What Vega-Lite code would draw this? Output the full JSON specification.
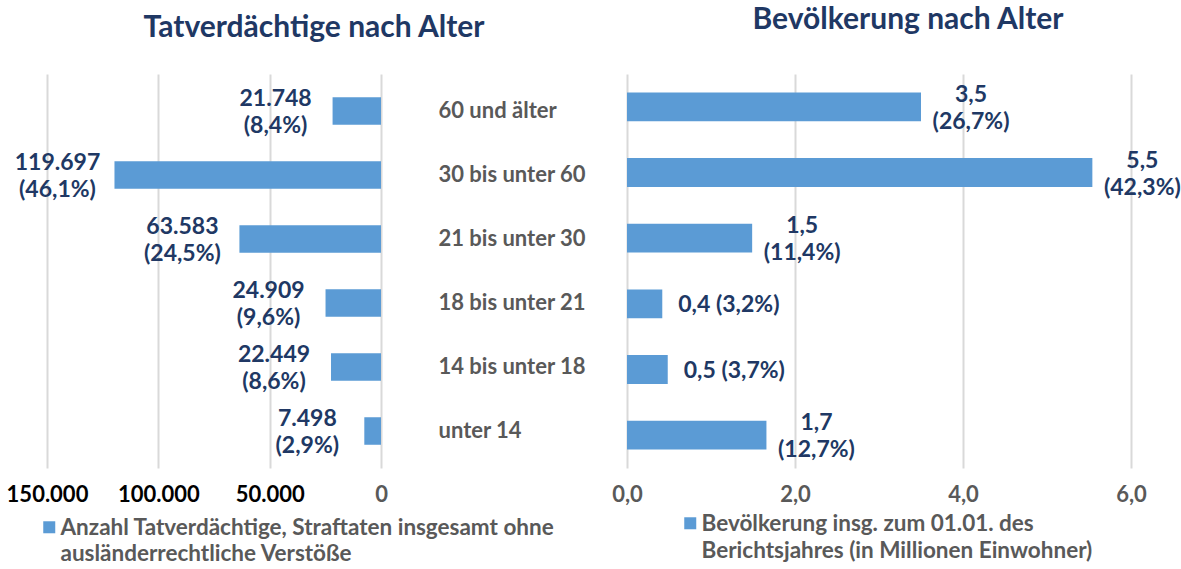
{
  "$schema": "https://vega.github.io/schema/vega-lite/v6.json",
  "padding": {"left": 6, "top": 5, "right": 5, "bottom": 5},
  "background": "white",
  "spacing": 246,
  "bounds": "flush",
  "data": {"values": [
    {"age": "60 und älter", "tv": 21748, "tvl": "21.748\n(8,4%)", "pop": 3.5, "popl": "3,5\n(26,7%)"},
    {"age": "30 bis unter 60", "tv": 119697, "tvl": "119.697\n(46,1%)", "pop": 5.54, "popl": "5,5\n(42,3%)"},
    {"age": "21 bis unter 30", "tv": 63583, "tvl": "63.583\n(24,5%)", "pop": 1.49, "popl": "1,5\n(11,4%)"},
    {"age": "18 bis unter 21", "tv": 24909, "tvl": "24.909\n(9,6%)", "pop": 0.42, "popl": "0,4 (3,2%)"},
    {"age": "14 bis unter 18", "tv": 22449, "tvl": "22.449\n(8,6%)", "pop": 0.485, "popl": "0,5 (3,7%)"},
    {"age": "unter 14", "tv": 7498, "tvl": "7.498\n(2,9%)", "pop": 1.66, "popl": "1,7\n(12,7%)"}
  ]},
  "hconcat": [
    {
      "width": 334,
      "height": 394,
      "title": {"text": "Tatverdächtige nach Alter", "font": "Lato", "fontSize": 30, "fontWeight": "bold", "color": "#1F3864", "anchor": "middle", "frame": "group", "dx": 100, "offset": 1, "baseline": "bottom"},
      "encoding": {
        "y": {"field": "age", "type": "nominal", "sort": null,
          "scale": {"paddingInner": 0.57, "paddingOuter": 0.363},
          "axis": {"orient": "right", "title": null, "labelAlign": "left", "labelPadding": 57, "domain": false, "ticks": false, "tickSize": 0,
            "labelColor": "#595959", "labelFont": "Lato", "labelFontSize": 22, "labelFontWeight": "bold", "labelLimit": 300, "labelBaseline": "middle"}}
      },
      "layer": [
        {
          "mark": {"type": "bar", "color": "#5B9BD5"},
          "encoding": {
            "x": {"field": "tv", "type": "quantitative",
              "scale": {"domain": [0, 150000], "reverse": true, "nice": false},
              "axis": {"title": null, "values": [0, 50000, 100000, 150000], "format": ",.0f", "grid": true, "gridColor": "#D9D9D9", "gridWidth": 2,
                "domain": false, "ticks": false, "tickSize": 0, "labelPadding": 16, "labelFlush": false, "labelOverlap": false,
                "labelFont": "Lato", "labelFontSize": 22, "labelFontWeight": "bold",
                "labelColor": {"condition": {"test": "datum.value === 0", "value": "#595959"}, "value": "#000000"}}},
            "color": {"datum": "Anzahl Tatverdächtige, Straftaten insgesamt ohne\nausländerrechtliche Verstöße", "type": "nominal",
              "scale": {"range": ["#5B9BD5"]},
              "legend": {"orient": "none", "legendX": -9, "legendY": 450, "title": null, "symbolType": "M-1,-2.33H1V-0.33H-1Z", "symbolSize": 144,
                "symbolStrokeWidth": 0, "labelOffset": 0, "labelBaseline": "alphabetic", "labelExpr": "split(datum.label, '\\n')",
                "labelFont": "Lato", "labelFontSize": 22.5, "labelFontWeight": "bold", "labelColor": "#595959", "labelLimit": 700,
                "encode": {"labels": {"update": {"lineHeight": {"value": 26}}}}}}
          }
        },
        {
          "mark": {"type": "text", "align": "center", "baseline": "alphabetic", "dx": -57, "dy": -5, "lineBreak": "\n", "lineHeight": 27,
            "font": "Lato", "fontSize": 23, "fontWeight": "bold", "color": "#203864"},
          "encoding": {
            "x": {"field": "tv", "type": "quantitative"},
            "text": {"field": "tvl"}
          }
        }
      ]
    },
    {
      "width": 504,
      "height": 394,
      "title": {"text": "Bevölkerung nach Alter", "font": "Lato", "fontSize": 30, "fontWeight": "bold", "color": "#1F3864", "anchor": "middle", "frame": "group", "dx": 29, "offset": 9, "baseline": "bottom"},
      "encoding": {
        "y": {"field": "age", "type": "nominal", "sort": null,
          "scale": {"paddingInner": 0.56, "paddingOuter": 0.28},
          "axis": null}
      },
      "layer": [
        {
          "mark": {"type": "bar", "color": "#5B9BD5"},
          "encoding": {
            "x": {"field": "pop", "type": "quantitative",
              "scale": {"domain": [0, 6], "nice": false},
              "axis": {"title": null, "values": [0, 2, 4, 6], "format": ".1f", "grid": true, "gridColor": "#D9D9D9", "gridWidth": 2,
                "domain": false, "ticks": false, "tickSize": 0, "labelPadding": 16, "labelFlush": false, "labelOverlap": false,
                "labelFont": "Lato", "labelFontSize": 22, "labelFontWeight": "bold", "labelColor": "#595959"}},
            "color": {"datum": "Bevölkerung insg. zum 01.01. des\nBerichtsjahres (in Millionen Einwohner)", "type": "nominal",
              "scale": {"range": ["#5B9BD5"]},
              "legend": {"orient": "none", "legendX": 52, "legendY": 446, "title": null, "symbolType": "M-1,-2.33H1V-0.33H-1Z", "symbolSize": 144,
                "symbolStrokeWidth": 0, "labelOffset": 0, "labelBaseline": "alphabetic", "labelExpr": "split(datum.label, '\\n')",
                "labelFont": "Lato", "labelFontSize": 22.5, "labelFontWeight": "bold", "labelColor": "#595959", "labelLimit": 700,
                "encode": {"labels": {"update": {"lineHeight": {"value": 27}}}}}}
          }
        },
        {
          "transform": [{"filter": "indexof(datum.popl, '\\n') >= 0"}],
          "mark": {"type": "text", "align": "center", "baseline": "alphabetic", "dx": 50, "dy": -5, "lineBreak": "\n", "lineHeight": 27,
            "font": "Lato", "fontSize": 23, "fontWeight": "bold", "color": "#203864"},
          "encoding": {
            "x": {"field": "pop", "type": "quantitative"},
            "text": {"field": "popl"}
          }
        },
        {
          "transform": [{"filter": "indexof(datum.popl, '\\n') < 0"}],
          "mark": {"type": "text", "align": "left", "baseline": "alphabetic", "dx": 16, "dy": 8,
            "font": "Lato", "fontSize": 23, "fontWeight": "bold", "color": "#203864"},
          "encoding": {
            "x": {"field": "pop", "type": "quantitative"},
            "text": {"field": "popl"}
          }
        }
      ]
    }
  ],
  "resolve": {"scale": {"color": "independent", "x": "independent"}, "legend": {"color": "independent"}},
  "config": {
    "view": {"stroke": null},
    "locale": {"number": {"decimal": ",", "thousands": ".", "grouping": [3], "currency": ["", " €"]}}
  }
}
